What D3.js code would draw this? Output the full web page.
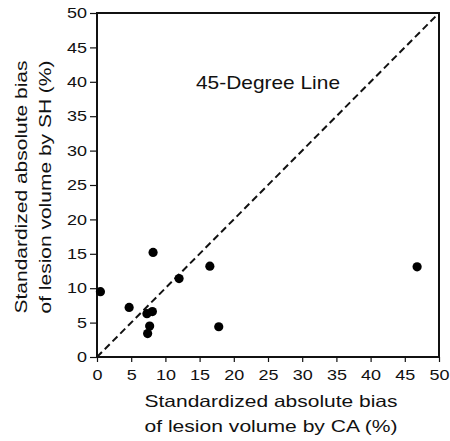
<!DOCTYPE html>
<html>
<head>
<meta charset="utf-8">
<script src="https://cdn.jsdelivr.net/npm/d3@7"></script>
<style>
  body { margin: 0; background: #fff; }
  svg { display: block; }
  text { font-family: "Liberation Sans", Arial, sans-serif; fill: #111; }
</style>
</head>
<body>
<svg id="chart" width="450" height="441"></svg>
<script>
// bias by CA (x) and by SH (y), percent
var caBias = [0.5, 4.7, 7.3, 8.1, 7.7, 7.4, 8.2, 12.0, 16.5, 17.8, 46.8];
var shBias = [9.5, 7.2, 6.3, 6.6, 4.5, 3.4, 15.2, 11.4, 13.2, 4.4, 13.1];
var tickValues = [0, 5, 10, 15, 20, 25, 30, 35, 40, 45, 50];
var lineLabel = "45-Degree Line";

var points = caBias.map((d, i) => ({ x: d, y: shBias[i] }));

const svg = d3.select("#chart");
const plotLeft = 97, plotRight = 439, plotTop = 13, plotBottom = 357;

const x = d3.scaleLinear().domain([0, 50]).range([plotLeft, plotRight]);
const y = d3.scaleLinear().domain([0, 50]).range([plotBottom, plotTop]);

// frame
svg.append("rect")
    .attr("x", plotLeft).attr("y", plotTop)
    .attr("width", plotRight - plotLeft).attr("height", plotBottom - plotTop)
    .attr("fill", "none")
    .attr("stroke", "#111")
    .attr("stroke-width", 2);

// axes
function styleAxis(g) {
    g.select(".domain").remove();
    g.selectAll(".tick line").attr("stroke", "#111").attr("stroke-width", 1.2);
    g.selectAll(".tick text")
        .attr("font-size", 14.5)
        .attr("font-family", "Liberation Sans, Arial, sans-serif")
        .attr("fill", "#111")
        .attr("textLength", d => String(d).length * 10)
        .attr("lengthAdjust", "spacingAndGlyphs");
}

svg.append("g")
    .attr("transform", `translate(0,${plotBottom})`)
    .call(d3.axisBottom(x).tickValues(tickValues).tickSize(5).tickPadding(8).tickSizeOuter(0))
    .call(styleAxis);

svg.append("g")
    .attr("transform", `translate(${plotLeft},0)`)
    .call(d3.axisLeft(y).tickValues(tickValues).tickSize(7).tickPadding(3).tickSizeOuter(0))
    .call(styleAxis);

// 45 degree line
svg.append("line")
    .attr("x1", x(0)).attr("y1", y(0))
    .attr("x2", x(50)).attr("y2", y(50))
    .attr("stroke", "#111")
    .attr("stroke-width", 2)
    .attr("stroke-dasharray", "7,4");

svg.append("text")
    .attr("x", 196).attr("y", 89)
    .attr("font-size", 19)
    .attr("textLength", 144)
    .attr("lengthAdjust", "spacingAndGlyphs")
    .text(lineLabel);

// points
svg.append("g")
    .selectAll("circle")
    .data(points)
    .join("circle")
    .attr("cx", d => x(d.x))
    .attr("cy", d => y(d.y))
    .attr("r", 4.6)
    .attr("fill", "#000");

// axis titles
var xTitle = ["Standardized absolute bias", "of lesion volume by CA (%)"];
var yTitle = ["Standardized absolute bias", "of lesion volume by SH (%)"];

svg.append("g")
    .selectAll("text")
    .data(xTitle)
    .join("text")
    .attr("x", 271)
    .attr("y", (d, i) => 407 + i * 25)
    .attr("text-anchor", "middle")
    .attr("font-size", 16.5)
    .attr("textLength", 253)
    .attr("lengthAdjust", "spacingAndGlyphs")
    .text(d => d);

svg.append("g")
    .selectAll("text")
    .data(yTitle)
    .join("text")
    .attr("transform", (d, i) => `translate(${27 + i * 24},187) rotate(-90)`)
    .attr("text-anchor", "middle")
    .attr("font-size", 16.5)
    .attr("textLength", 253)
    .attr("lengthAdjust", "spacingAndGlyphs")
    .text(d => d);
</script>
</body>
</html>
